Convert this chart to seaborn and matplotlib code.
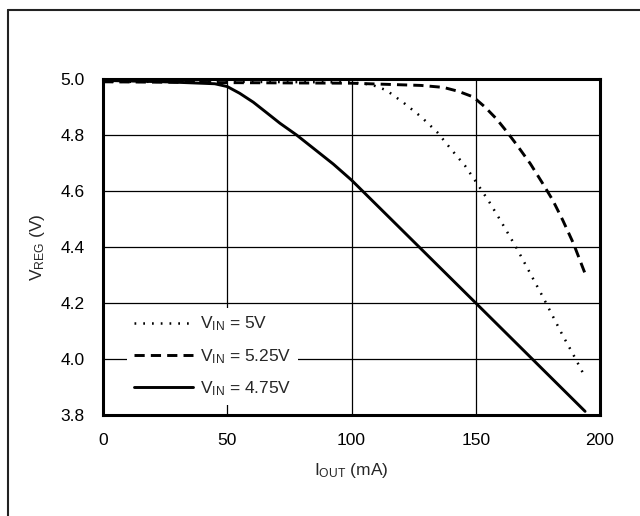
import matplotlib
matplotlib.use("Agg")
import matplotlib.pyplot as plt
from matplotlib.lines import Line2D
import seaborn as sns
import pandas as pd

# ---- data ----
i_5v = [0, 50, 100, 108, 114, 121, 128, 134.5, 140, 145.7, 150.6, 155.5, 160, 166.5, 177, 185, 189.3, 193.5]
v_5v = [4.99, 4.99, 4.988, 4.98, 4.96, 4.915, 4.865, 4.81, 4.75, 4.69, 4.626, 4.56, 4.494, 4.395, 4.222, 4.084, 4.015, 3.944]

i_525v = [0, 50, 100, 128, 137, 143, 149, 153.7, 158.4, 162.4, 166.5, 172, 177, 181, 185, 189.3, 194]
v_525v = [4.99, 4.987, 4.985, 4.977, 4.97, 4.956, 4.936, 4.9, 4.857, 4.813, 4.765, 4.697, 4.626, 4.567, 4.496, 4.413, 4.305]

i_475v = [0, 25, 45, 50, 55, 60.5, 65.8, 71.2, 77.9, 84.6, 92.7, 100, 150, 194]
v_475v = [4.995, 4.99, 4.983, 4.973, 4.949, 4.917, 4.88, 4.842, 4.8, 4.753, 4.696, 4.639, 4.2, 3.813]

labels = ["$\\mathregular{V_{IN}}$ = 5V", "$\\mathregular{V_{IN}}$ = 5.25V", "$\\mathregular{V_{IN}}$ = 4.75V"]
x_ticks = [0, 50, 100, 150, 200]
y_ticks = [3.8, 4.0, 4.2, 4.4, 4.6, 4.8, 5.0]
y_tick_labels = ["3.8", "4.0", "4.2", "4.4", "4.6", "4.8", "5.0"]

sns.set_theme(style="white")
plt.rcParams["font.family"] = ["Liberation Sans", "DejaVu Sans"]
plt.rcParams["mathtext.fontset"] = "custom"
plt.rcParams["mathtext.rm"] = "Liberation Sans"
plt.rcParams["mathtext.it"] = "Liberation Sans"

fig = plt.figure(figsize=(6.4, 5.16), dpi=100)
ax = fig.add_axes([103/640, 1-415/516, (600-103)/640, (415-79)/516])

d1 = pd.DataFrame({"I": i_5v, "V": v_5v})
d2 = pd.DataFrame({"I": i_525v, "V": v_525v})
d3 = pd.DataFrame({"I": i_475v, "V": v_475v})

sns.lineplot(data=d1, x="I", y="V", ax=ax, color="black", lw=1.8, label=labels[0],
             estimator=None, sort=False)
ax.lines[-1].set_dashes((0.7, 2.8))
sns.lineplot(data=d2, x="I", y="V", ax=ax, color="black", lw=2.1, label=labels[1],
             estimator=None, sort=False)
ax.lines[-1].set_dashes((3.5, 2.1))
sns.lineplot(data=d3, x="I", y="V", ax=ax, color="black", lw=2.1, label=labels[2],
             estimator=None, sort=False)
for ln in ax.lines:
    ln.set_solid_joinstyle("round")

ax.set_xlim(0, 200)
ax.set_ylim(3.8, 5.0)
ax.set_xticks(x_ticks)
ax.set_yticks(y_ticks)
ax.set_yticklabels(y_tick_labels)
ax.grid(True, color="black", lw=0.9)
ax.set_axisbelow(True)
ax.tick_params(axis="both", length=0, pad=13, labelsize=12.5, colors="black")
for s in ax.spines.values():
    s.set_color("black")
    s.set_linewidth(2.2)

ax.set_xlabel("$\\mathregular{I_{OUT}}$ (mA)", fontsize=12.5, labelpad=9)
ax.set_ylabel("$\\mathregular{V_{REG}}$ (V)", fontsize=12.5, labelpad=10)

leg = ax.legend(loc="lower left", bbox_to_anchor=(0.048, 0.03), fontsize=12.5,
                handlelength=3.4, handletextpad=0.4, labelspacing=0.78,
                frameon=True, fancybox=False, framealpha=1.0, borderpad=0.4,
                borderaxespad=0)
leg.get_frame().set_facecolor("white")
leg.get_frame().set_edgecolor("none")
leg.set_zorder(5)

# outer frame lines of the original figure
fig.add_artist(Line2D([8/640, 8/640], [0, 1-10/516], color="#222222", lw=1.5, transform=fig.transFigure))
fig.add_artist(Line2D([8/640, 1], [1-10/516, 1-10/516], color="#222222", lw=1.5, transform=fig.transFigure))

fig.savefig("out.png", dpi=100)
